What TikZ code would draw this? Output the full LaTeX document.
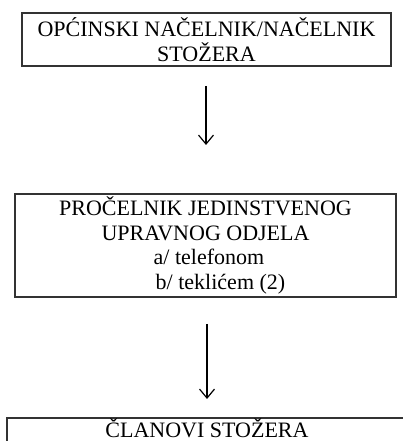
\documentclass[tikz,border=0pt]{standalone}
\usepackage{fontspec}
\setmainfont{Liberation Serif}
\usetikzlibrary{arrows.meta}
\tikzset{
  box/.style={draw=black!80, line width=1.4pt, align=center, inner sep=0pt,
    font=\fontsize{22pt}{24.5pt}\selectfont},
  conn/.style={draw=black, line width=1.4pt, -{Straight Barb[length=9pt,width=15pt,line width=1.2pt]}},
}
\begin{document}
\begin{tikzpicture}[x=1pt,y=1pt]
\useasboundingbox (0,0) rectangle (402,441);
\node[box, minimum width=369pt, minimum height=53pt] (b1) at (206.5,401.5)
  {OPĆINSKI NAČELNIK/NAČELNIK\\STOŽERA};
\node[box, minimum width=381pt, minimum height=103pt] (b2) at (205.5,195.5)
  {PROČELNIK JEDINSTVENOG\\UPRAVNOG ODJELA\\\hspace*{7pt}a/ telefonom\\\hspace*{30pt}b/ teklićem (2)};
\node[box, anchor=base, minimum width=400pt, text depth=14pt, inner ysep=0.5pt] (b3) at (207,3.5)
  {ČLANOVI STOŽERA};
\coordinate (a1s) at (206,355);
\coordinate (a1e) at (206,296);
\coordinate (a2s) at (207,117);
\coordinate (a2e) at (207,42);
\draw[conn] (a1s) -- (a1e);
\draw[conn] (a2s) -- (a2e);
\end{tikzpicture}
\end{document}
